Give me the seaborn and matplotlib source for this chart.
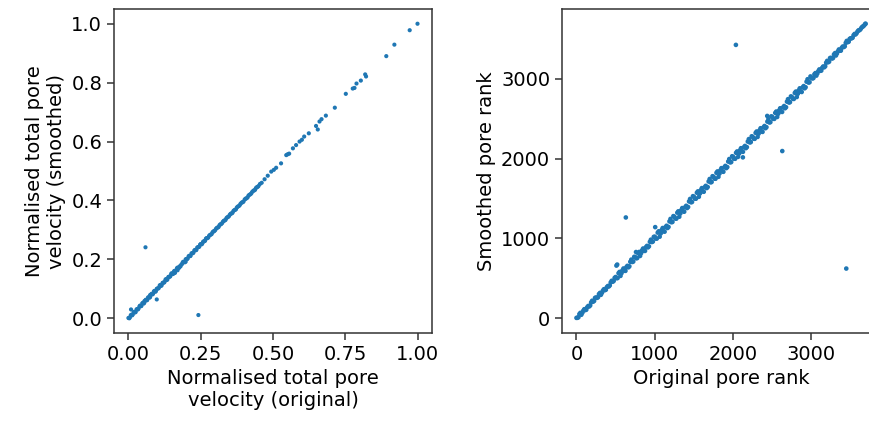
import matplotlib
matplotlib.use("Agg")
import matplotlib.pyplot as plt
import seaborn as sns
import pandas as pd

# ---- Left panel: normalised total pore velocity ----
vel_dense_a_original = [
    0.000, 0.005, 0.010, 0.015, 0.020, 0.025, 0.030, 0.035, 0.040, 0.045,
    0.050, 0.055, 0.060, 0.065, 0.070, 0.075, 0.080, 0.085, 0.090, 0.095,
    0.100, 0.105, 0.110, 0.115, 0.120, 0.125, 0.130, 0.135, 0.140, 0.145,
    0.150, 0.155, 0.160, 0.165, 0.170, 0.175, 0.180, 0.185, 0.190, 0.195,
    0.200, 0.205, 0.210, 0.215, 0.220, 0.225, 0.230, 0.235, 0.240, 0.245,
    0.250, 0.255, 0.260, 0.265, 0.270, 0.276, 0.282, 0.288, 0.294, 0.300,
    0.306, 0.312, 0.318, 0.324, 0.330, 0.336, 0.342, 0.348, 0.354, 0.360,
    0.366, 0.372, 0.378, 0.385, 0.392, 0.398, 0.405, 0.412, 0.418, 0.425,
    0.432, 0.438, 0.444, 0.450, 0.455, 0.461,
]
vel_dense_a_smoothed = [
    0.001, 0.003, 0.012, 0.013, 0.022, 0.021, 0.031, 0.033, 0.043, 0.042,
    0.052, 0.053, 0.063, 0.062, 0.071, 0.072, 0.083, 0.083, 0.093, 0.092,
    0.101, 0.103, 0.113, 0.112, 0.121, 0.123, 0.133, 0.132, 0.141, 0.143,
    0.153, 0.151, 0.161, 0.163, 0.172, 0.171, 0.176, 0.184, 0.192, 0.190,
    0.201, 0.203, 0.212, 0.212, 0.221, 0.223, 0.232, 0.232, 0.241, 0.243,
    0.252, 0.253, 0.261, 0.263, 0.272, 0.274, 0.283, 0.286, 0.295, 0.299,
    0.307, 0.310, 0.319, 0.323, 0.331, 0.334, 0.343, 0.347, 0.355, 0.358,
    0.367, 0.370, 0.379, 0.384, 0.393, 0.396, 0.406, 0.410, 0.419, 0.424,
    0.433, 0.436, 0.445, 0.449, 0.456, 0.460,
]
vel_dense_b_original = [
    0.003, 0.008, 0.013, 0.018, 0.023, 0.028, 0.033, 0.038, 0.043, 0.048,
    0.053, 0.058, 0.063, 0.068, 0.073, 0.078, 0.083, 0.088, 0.093, 0.098,
    0.103, 0.108, 0.113, 0.118, 0.123, 0.128, 0.133, 0.138, 0.143, 0.148,
    0.153, 0.158, 0.163, 0.168, 0.173, 0.178, 0.183, 0.188, 0.193, 0.198,
    0.203, 0.208, 0.213, 0.218, 0.223, 0.228, 0.233, 0.238, 0.243, 0.248,
    0.253, 0.258, 0.263, 0.268, 0.273, 0.279, 0.285, 0.291, 0.297, 0.303,
    0.309, 0.315, 0.321, 0.327, 0.333, 0.339, 0.345, 0.351, 0.357, 0.363,
    0.369, 0.375, 0.382, 0.388, 0.395, 0.402, 0.408, 0.415, 0.422, 0.428,
    0.435, 0.441, 0.447,
    0.161, 0.198, 0.170, 0.055, 0.075,
]
vel_dense_b_smoothed = [
    0.000, 0.010, 0.010, 0.021, 0.020, 0.030, 0.030, 0.040, 0.041, 0.051,
    0.050, 0.060, 0.061, 0.071, 0.070, 0.080, 0.081, 0.091, 0.090, 0.100,
    0.101, 0.111, 0.110, 0.120, 0.121, 0.131, 0.130, 0.140, 0.141, 0.151,
    0.150, 0.160, 0.161, 0.170, 0.172, 0.177, 0.182, 0.190, 0.191, 0.200,
    0.201, 0.210, 0.211, 0.220, 0.221, 0.230, 0.231, 0.240, 0.242, 0.250,
    0.251, 0.259, 0.262, 0.270, 0.272, 0.280, 0.284, 0.292, 0.296, 0.304,
    0.308, 0.316, 0.320, 0.328, 0.332, 0.340, 0.344, 0.352, 0.356, 0.364,
    0.368, 0.376, 0.381, 0.389, 0.394, 0.403, 0.407, 0.416, 0.421, 0.429,
    0.434, 0.442, 0.446,
    0.154, 0.192, 0.163, 0.058, 0.079,
]
vel_sparse_original = [
    0.471, 0.482, 0.494, 0.503, 0.511, 0.528, 0.546, 0.551, 0.556, 0.569,
    0.580, 0.592, 0.600, 0.608, 0.624, 0.649, 0.655, 0.661, 0.668, 0.683,
    0.714, 0.752, 0.776, 0.782, 0.789, 0.804, 0.819, 0.822, 0.892, 0.920,
    0.973, 1.000,
    0.059, 0.242, 0.098, 0.009,
]
vel_sparse_smoothed = [
    0.472, 0.484, 0.498, 0.504, 0.511, 0.526, 0.554, 0.557, 0.559, 0.577,
    0.588, 0.600, 0.606, 0.617, 0.628, 0.653, 0.641, 0.668, 0.676, 0.688,
    0.715, 0.762, 0.780, 0.782, 0.797, 0.807, 0.828, 0.821, 0.890, 0.929,
    0.978, 1.000,
    0.241, 0.011, 0.064, 0.030,
]

# ---- Right panel: pore rank ----
rank_a_original = [
    0, 25, 50, 75, 100, 125, 150, 175, 200, 225,
    250, 275, 300, 325, 350, 375, 400, 425, 450, 475,
    500, 525, 550, 575, 600, 625, 650, 675, 700, 725,
    750, 775, 800, 825, 850, 875, 900, 925, 950, 975,
    1000, 1025, 1050, 1075, 1100, 1125, 1150, 1175, 1200, 1225,
    1250, 1275, 1300, 1325, 1350, 1375, 1400, 1425, 1450, 1475,
    1500, 1525, 1550, 1575, 1600, 1625, 1650, 1675, 1700, 1725,
    1750, 1775, 1800, 1825, 1850, 1875, 1900, 1925, 1950, 1975,
    2000, 2025, 2050, 2075, 2100, 2125, 2150, 2175, 2200, 2225,
    2250, 2275, 2300, 2325, 2350, 2375, 2400, 2425, 2450, 2475,
    2500, 2525, 2550, 2575, 2600, 2625, 2650, 2675, 2700, 2725,
    2750, 2775, 2800, 2825, 2850, 2875, 2900, 2925, 2950, 2975,
    3000, 3025, 3050, 3075, 3100, 3125, 3150, 3175, 3200, 3225,
    3250, 3275, 3300, 3325, 3350, 3375, 3400, 3425, 3450, 3475,
    3500, 3525, 3550, 3575, 3600, 3625, 3650, 3675, 3690,
]
rank_a_smoothed = [
    5, 13, 68, 69, 114, 107, 154, 161, 220, 217,
    260, 263, 318, 319, 364, 357, 404, 411, 470, 467,
    517, 504, 581, 565, 624, 594, 657, 651, 735, 711,
    767, 754, 831, 815, 874, 844, 907, 901, 985, 961,
    1022, 998, 1090, 1062, 1131, 1085, 1159, 1144, 1245, 1207,
    1272, 1248, 1340, 1312, 1381, 1335, 1409, 1394, 1495, 1457,
    1522, 1498, 1590, 1562, 1631, 1585, 1659, 1644, 1745, 1707,
    1772, 1748, 1840, 1812, 1881, 1835, 1909, 1894, 1995, 1957,
    2022, 1998, 2090, 2062, 2131, 2085, 2159, 2144, 2245, 2207,
    2272, 2248, 2340, 2312, 2381, 2335, 2409, 2394, 2495, 2457,
    2522, 2498, 2590, 2562, 2631, 2585, 2659, 2644, 2745, 2707,
    2772, 2748, 2840, 2812, 2881, 2835, 2909, 2894, 2995, 2957,
    3012, 3010, 3072, 3067, 3118, 3103, 3155, 3157, 3225, 3215,
    3262, 3260, 3322, 3317, 3368, 3353, 3405, 3407, 3475, 3465,
    3508, 3515, 3562, 3570, 3607, 3620, 3652, 3673, 3690,
]
rank_b_original = [
    12, 37, 62, 87, 112, 137, 162, 187, 212, 237,
    262, 287, 312, 337, 362, 387, 412, 437, 462, 487,
    512, 537, 562, 587, 612, 637, 662, 687, 712, 737,
    762, 787, 812, 837, 862, 887, 912, 937, 962, 987,
    1012, 1037, 1062, 1087, 1112, 1137, 1162, 1187, 1212, 1237,
    1262, 1287, 1312, 1337, 1362, 1387, 1412, 1437, 1462, 1487,
    1512, 1537, 1562, 1587, 1612, 1637, 1662, 1687, 1712, 1737,
    1762, 1787, 1812, 1837, 1862, 1887, 1912, 1937, 1962, 1987,
    2012, 2037, 2062, 2087, 2112, 2137, 2162, 2187, 2212, 2237,
    2262, 2287, 2312, 2337, 2362, 2387, 2412, 2437, 2462, 2487,
    2512, 2537, 2562, 2587, 2612, 2637, 2662, 2687, 2712, 2737,
    2762, 2787, 2812, 2837, 2862, 2887, 2912, 2937, 2962, 2987,
    3012, 3037, 3062, 3087, 3112, 3137, 3162, 3187, 3212, 3237,
    3262, 3287, 3312, 3337, 3362, 3387, 3412, 3437, 3462, 3487,
    3512, 3537, 3562, 3587, 3612, 3637, 3662, 3687,
]
rank_b_smoothed = [
    6, 53, 44, 95, 102, 139, 148, 199, 208, 256,
    256, 303, 294, 345, 352, 389, 398, 449, 458, 506,
    502, 565, 531, 601, 595, 641, 638, 708, 705, 770,
    752, 815, 781, 851, 845, 891, 888, 958, 955, 1020,
    999, 1073, 1022, 1105, 1090, 1142, 1131, 1214, 1203, 1280,
    1249, 1323, 1272, 1355, 1340, 1392, 1381, 1464, 1453, 1530,
    1499, 1573, 1522, 1605, 1590, 1642, 1631, 1714, 1703, 1780,
    1749, 1823, 1772, 1855, 1840, 1892, 1881, 1964, 1953, 2030,
    1999, 2073, 2022, 2105, 2090, 2142, 2131, 2214, 2203, 2280,
    2249, 2323, 2272, 2355, 2340, 2392, 2381, 2464, 2453, 2530,
    2499, 2573, 2522, 2605, 2590, 2642, 2631, 2714, 2703, 2780,
    2749, 2823, 2772, 2855, 2840, 2892, 2881, 2964, 2953, 3030,
    3004, 3057, 3040, 3097, 3100, 3139, 3144, 3202, 3207, 3261,
    3254, 3305, 3292, 3345, 3352, 3389, 3398, 3450, 3459, 3500,
    3507, 3546, 3556, 3592, 3609, 3639, 3659, 3688,
]
rank_outlier_original = [2035, 2627, 3444, 630, 1005, 520, 510, 2435, 2124, 760]
rank_outlier_smoothed = [3425, 2095, 623, 1263, 1142, 673, 660, 2535, 2016, 830]

x_label_left = "Normalised total pore\nvelocity (original)"
y_label_left = "Normalised total pore\nvelocity (smoothed)"
x_label_right = "Original pore rank"
y_label_right = "Smoothed pore rank"
left_xticks = [0.0, 0.25, 0.5, 0.75, 1.0]
left_yticks = [0.0, 0.2, 0.4, 0.6, 0.8, 1.0]
right_ticks = [0, 1000, 2000, 3000]

df_v = pd.DataFrame({
    "orig": vel_dense_a_original + vel_dense_b_original + vel_sparse_original,
    "smooth": vel_dense_a_smoothed + vel_dense_b_smoothed + vel_sparse_smoothed,
})
df_r = pd.DataFrame({
    "orig": rank_a_original + rank_b_original + rank_outlier_original,
    "smooth": rank_a_smoothed + rank_b_smoothed + rank_outlier_smoothed,
})

plt.rcParams["font.family"] = ["DejaVu Sans"]
fs = 14
color = "#1f77b4"

fig = plt.figure(figsize=(8.70, 4.21), dpi=100)
ax1 = fig.add_axes([0.131, 0.209, 0.3655, 0.7696])
ax2 = fig.add_axes([0.646, 0.209, 0.3655, 0.7696])

sns.scatterplot(data=df_v, x="orig", y="smooth", ax=ax1, s=9, color=color,
                linewidth=0, edgecolor="none")
sns.scatterplot(data=df_r, x="orig", y="smooth", ax=ax2, s=11, color=color,
                linewidth=0, edgecolor="none")

ax1.set_xticks(left_xticks)
ax1.set_xticklabels([f"{v:.2f}" for v in left_xticks])
ax1.set_yticks(left_yticks)
ax1.set_yticklabels([f"{v:.1f}" for v in left_yticks])
ax1.set_xlim(-0.05, 1.05)
ax1.set_ylim(-0.05, 1.05)
ax2.set_xlim(-184.5, 3874.5)
ax2.set_ylim(-184.5, 3874.5)
ax2.set_xticks(right_ticks)
ax2.set_yticks(right_ticks)

ax1.set_xlabel(x_label_left, fontsize=fs)
ax1.set_ylabel(y_label_left, fontsize=fs)
ax2.set_xlabel(x_label_right, fontsize=fs)
ax2.set_ylabel(y_label_right, fontsize=fs)

for ax in (ax1, ax2):
    ax.tick_params(labelsize=fs, length=5, width=1.1, color="#333333")
    for sp in ax.spines.values():
        sp.set_linewidth(1.1)
        sp.set_color("#333333")

fig.savefig("out.png", dpi=100)
